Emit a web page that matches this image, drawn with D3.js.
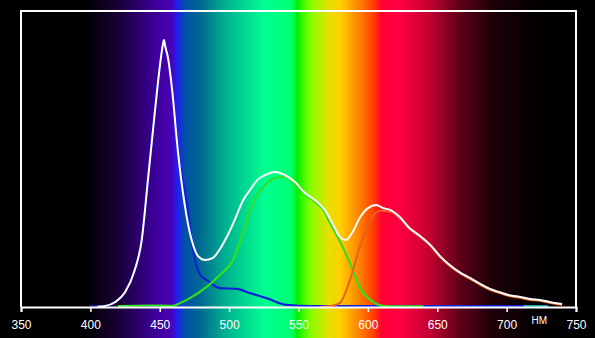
<!DOCTYPE html>
<html><head><meta charset="utf-8">
<script src="https://cdn.jsdelivr.net/npm/d3@7"></script>
<style>html,body{margin:0;padding:0;background:#000;}svg{display:block;}</style>
</head><body>
<script>
// ---- data ----
const xTicks = [350,400,450,500,550,600,650,700,750];
const unitLabel = "НМ";
const totalNm  = [405,410,418,425,432,437,441.5,446.6,450,452,453,454,456,459,463,468,473,477.6,482.6,488,493,499,504,510,515,521,526,533,540,547.5,554.7,562,569,575,580,584,588.6,594,600,606,611,616,623,630,637.6,645,652,659,666,673.6,681,688,695,702,709.6,717,724,731,740];
const totalVal = [0.1,0.3,1.7,5,12.5,22.6,43,66.5,81,88,90.2,88,84,73,53,34.5,22.6,17.2,15.9,16.5,19.3,24.3,29.4,36,39.5,43.2,44.6,45.6,44.6,42.2,38.5,36.1,32.8,27.7,23.6,22.6,25,30,33.4,34.5,33.4,32.8,30.4,26.7,24,21,17.2,14.2,11.8,9.8,7.8,6.1,5,4,3.4,2.7,2.4,1.7,1];
const blueNm   = [400,410,418,425,432,437,441.5,446.6,450,452,453,454,456,459,463,469.4,474,479,483.8,493.4,505.5,515,527,541.5,560,600,650,700,712];
const blueVal  = [0.2,0.3,1.7,5,12.5,22.6,43,66.5,81,88,90.2,88,84,73,53,36,19.3,11,9.1,6.4,6.1,4.7,3,0.7,0.3,0.3,0.3,0.3,0.3];
const greenNm  = [420,440,459.5,465,471.8,483.8,493.4,502.8,510,517,524.4,533,540,547.5,554.7,562,569,572.7,580,587,594,603.7,612,625,640];
const greenVal = [0.3,0.5,0.4,1.4,3,6.8,10.8,15.9,25,35,40.5,43.5,44,41.5,38,35.5,32,28.4,22,14.9,6.8,1.7,0.3,0.2,0.2];
const redNm    = [565,575,580,587,594,601.5,608.7,616,623,630,637.6,645,652,659,666,673.6,681,688,695,702,709.6,717,724,731,740];
const redVal   = [0,0.5,1.4,9,20,29,32.5,32.3,30.1,26.4,23.7,20.7,16.9,13.9,11.5,9.5,7.5,5.8,4.7,3.7,3.1,2.4,2.1,1.4,0.7];
const cyanNm   = [712,720,730];
const cyanVal  = [0.3,0.3,0.3];
// background spectrum stops (wavelength -> colour)
const specNm    = [396,421,443,458,463,468,479,495,511,526,545,549,558,572,580,594,604,610,623,645,666,688,724];
const specColor = ["#000000","#1a0038","#38008e","#4a00b4","#2020f0","#0050a8","#006890","#00a890","#00d890","#00ff90","#00ff70","#00f000","#80ff00","#e8e000","#ffd000","#ff8000","#ff4000","#ff0032","#ff0044","#c00030","#600018","#200008","#000000"];

// ---- chart ----
const W = 595, H = 338;
const svg = d3.select("body").append("svg").attr("width", W).attr("height", H);
const x = d3.scaleLinear().domain([350, 750]).range([21, 576]);
const y = d3.scaleLinear().domain([0, 100]).range([307, 11]);

const defs = svg.append("defs");
const grad = defs.append("linearGradient").attr("id","spec")
  .attr("gradientUnits","userSpaceOnUse").attr("x1",0).attr("x2",W).attr("y1",0).attr("y2",0);
specNm.forEach((n,i)=>grad.append("stop").attr("offset", x(n)/W).attr("stop-color", specColor[i]));
svg.append("rect").attr("width",W).attr("height",H).attr("fill","url(#spec)");

const line = d3.line().x(d=>x(d[0])).y(d=>y(d[1])).curve(d3.curveMonotoneX);
const zip = (a,b)=>a.map((v,i)=>[v,b[i]]);

svg.append("path").attr("d", line(zip(cyanNm,cyanVal))).attr("fill","none").attr("stroke","#20b0c0").attr("stroke-width",2);
svg.append("path").attr("d", line(zip(blueNm,blueVal))).attr("fill","none").attr("stroke","#1020d8").attr("stroke-width",2.2);
svg.append("path").attr("d", line(zip(greenNm,greenVal))).attr("fill","none").attr("stroke","#30e020").attr("stroke-width",2.2);
svg.append("path").attr("d", line(zip(redNm,redVal))).attr("fill","none").attr("stroke","#e86020").attr("stroke-width",2);
svg.append("path").attr("d", line(zip(totalNm,totalVal))).attr("fill","none").attr("stroke","#ffffff").attr("stroke-width",2).attr("stroke-linejoin","round");

// frame
svg.append("path").attr("d", `M${x(350)},${y(0)}V${y(100)}H${x(750)}V${y(0)}`).attr("fill","none").attr("stroke","#fff").attr("stroke-width",2);

const axis = d3.axisBottom(x).tickValues(xTicks).tickSize(5).tickPadding(8).tickFormat(d3.format("d"));
const ax = svg.append("g").attr("transform",`translate(0,${y(0)})`).call(axis);
ax.select(".domain").attr("stroke","#fff").attr("stroke-width",2);
ax.selectAll(".tick line").attr("stroke","#fff").attr("stroke-width",1.5);
ax.selectAll(".tick text").attr("fill","#fff").attr("font-family","Liberation Sans, Arial, sans-serif").attr("font-size",12);

svg.append("text").attr("x", x(723.5)).attr("y", y(0)+17).attr("text-anchor","middle")
  .attr("fill","#fff").attr("font-family","Liberation Sans, Arial, sans-serif").attr("font-size",10).text(unitLabel);
</script>
</body></html>
